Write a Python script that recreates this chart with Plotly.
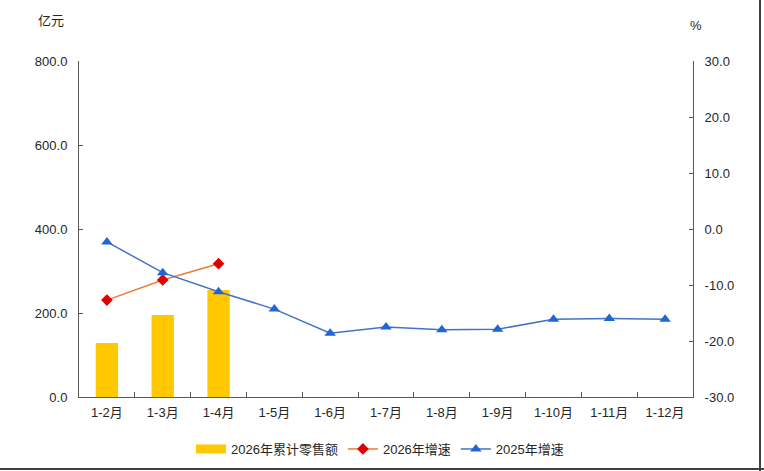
import plotly.graph_objects as go

categories = ["1-2月", "1-3月", "1-4月", "1-5月", "1-6月", "1-7月", "1-8月", "1-9月", "1-10月", "1-11月", "1-12月"]
sales_2026 = [128.5, 195.0, 255.0]
growth_2026 = [-12.7, -9.1, -6.2]
growth_2025 = [-2.3, -7.8, -11.2, -14.3, -18.6, -17.5, -18.0, -17.9, -16.1, -16.0, -16.1]
left_ticks = [0, 200, 400, 600, 800]
right_ticks = [-30, -20, -10, 0, 10, 20, 30]

FONT = "Liberation Sans, Arial, Noto Sans CJK SC, sans-serif"
TXT = "#262626"
AX = "#595959"
BAR_COLOR = "#FFC800"

fig = go.Figure()
fig.add_trace(go.Bar(
    x=categories[:len(sales_2026)], y=sales_2026, name="2026年累计零售额",
    marker=dict(color=BAR_COLOR, line=dict(width=0)), yaxis="y",
    showlegend=False, legendgroup="bar",
))
# legend proxy for the bar series (wide rectangular swatch)
fig.add_trace(go.Scatter(
    x=[None], y=[None], name="2026年累计零售额", mode="lines",
    line=dict(color=BAR_COLOR, width=9), legendgroup="bar", legendrank=1,
))
fig.add_trace(go.Scatter(
    x=categories[:len(growth_2026)], y=growth_2026, name="2026年增速", mode="lines+markers",
    line=dict(color="#ED7D31", width=1.5),
    marker=dict(symbol="diamond", size=9, color="#E00000"), yaxis="y2", legendrank=2,
))
fig.add_trace(go.Scatter(
    x=categories, y=growth_2025, name="2025年增速", mode="lines+markers",
    line=dict(color="#4472C4", width=1.5),
    marker=dict(symbol="triangle-up", size=10, color="#1F66D6"), yaxis="y2", legendrank=3,
))

l, r, t, b = 79, 71, 61, 74
W, H = 764, 471
pw, ph = W - l - r, H - t - b

fig.update_layout(
    width=W, height=H,
    margin=dict(l=l, r=r, t=t, b=b, pad=0, autoexpand=False),
    paper_bgcolor="white", plot_bgcolor="white",
    font=dict(family=FONT, size=13, color=TXT),
    bargap=0.6,
    showlegend=True,
    legend=dict(orientation="h", x=(380 - l) / pw, xanchor="center", y=(397 - 449) / ph, yanchor="middle",
                font=dict(size=13, color=TXT), itemwidth=30, tracegroupgap=0),
    xaxis=dict(
        type="category", categoryorder="array", categoryarray=categories,
        range=[-0.5, len(categories) - 0.5],
        showline=True, linecolor=AX, linewidth=1,
        ticks="inside", ticklen=5, tickcolor=AX, tickson="boundaries",
        ticklabelstandoff=3,
        showgrid=False, zeroline=False, tickfont=dict(size=13, color=TXT),
    ),
    yaxis=dict(
        range=[0, 800], tickvals=left_ticks, ticktext=[f"{v:.1f}" for v in left_ticks],
        showline=True, linecolor=AX, linewidth=1,
        ticks="inside", ticklen=4, tickcolor=AX, ticklabelstandoff=8,
        showgrid=False, zeroline=False, tickfont=dict(size=13, color=TXT),
    ),
    yaxis2=dict(
        range=[-30, 30], tickvals=right_ticks, ticktext=[f"{v:.1f}" for v in right_ticks],
        overlaying="y", side="right",
        showline=True, linecolor=AX, linewidth=1,
        ticks="inside", ticklen=4, tickcolor=AX, ticklabelstandoff=8,
        showgrid=False, zeroline=False, tickfont=dict(size=13, color=TXT),
    ),
    annotations=[
        dict(text="亿元", xref="paper", yref="paper", x=(51 - l) / pw, y=(397 - 21) / ph,
             xanchor="center", yanchor="middle", showarrow=False, font=dict(size=13, color=TXT)),
        dict(text="%", xref="paper", yref="paper", x=(696 - l) / pw, y=(397 - 26) / ph,
             xanchor="center", yanchor="middle", showarrow=False, font=dict(size=13, color=TXT)),
    ],
    shapes=[
        dict(type="line", xref="paper", yref="paper", x0=(760 - l) / pw, x1=(760 - l) / pw,
             y0=(397 - 471) / ph, y1=(397 - 0) / ph, line=dict(color="#404040", width=2)),
        dict(type="line", xref="paper", yref="paper", x0=(0 - l) / pw, x1=(764 - l) / pw,
             y0=(397 - 469) / ph, y1=(397 - 469) / ph, line=dict(color="#404040", width=2)),
    ],
)

fig.write_html("out.html")
